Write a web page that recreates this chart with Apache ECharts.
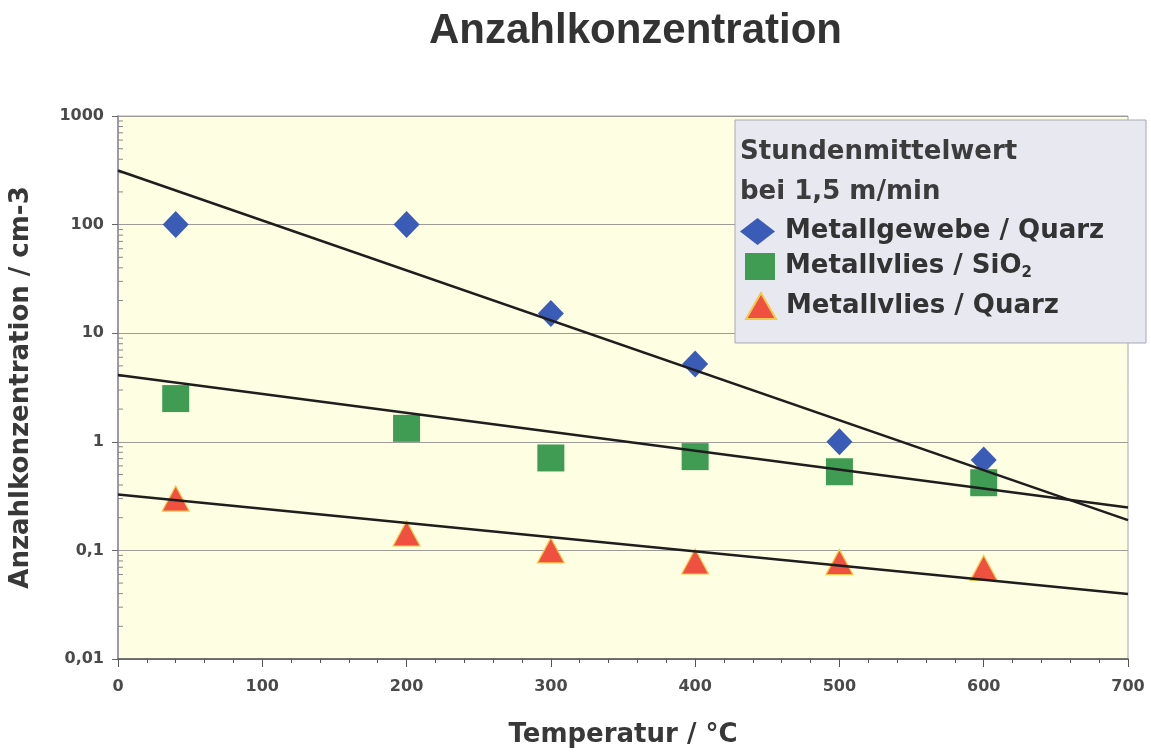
<!DOCTYPE html>
<html>
<head>
<meta charset="utf-8">
<script src="https://cdn.jsdelivr.net/npm/echarts@6/dist/echarts.min.js"></script>
<style>
  html, body { margin: 0; padding: 0; background: #ffffff; }
  #chart { width: 1151px; height: 753px; }
</style>
</head>
<body>
<div id="chart"></div>
<script>
// Measured temperatures (°C)
const temperatures = [40, 200, 300, 400, 500, 600];

// Hourly means of number concentration (cm^-3)
const metallgewebeQuarz = [100, 100, 15.2, 5.2, 1.0, 0.68];
const metallvliesSiO2 = [2.5, 1.33, 0.71, 0.73, 0.53, 0.42];
const metallvliesQuarz = [0.3, 0.143, 0.1, 0.079, 0.078, 0.069];

// Exponential trend lines, given by their values at both ends of the x range
const trendX = [0, 700];
const trendGewebeQuarz = [315, 0.19];
const trendVliesSiO2 = [4.12, 0.248];
const trendVliesQuarz = [0.327, 0.0397];

// Axis tick labels
const xTicks = [0, 100, 200, 300, 400, 500, 600, 700];
const yTickValues = [0.01, 0.1, 1, 10, 100, 1000];
const yTickLabels = ['0,01', '0,1', '1', '10', '100', '1000'];

const seriesNames = ['Metallgewebe / Quarz', 'Metallvlies / SiO2', 'Metallvlies / Quarz'];

const pairs = (xs, ys) => xs.map((x, i) => [x, ys[i]]);

// Logarithmic minor tick positions (2..9 per decade)
const minorTickValues = [];
for (let e = -2; e < 3; e++) {
  for (let m = 2; m <= 9; m++) minorTickValues.push(m * Math.pow(10, e));
}

const FONT = 'DejaVu Sans';
const chart = echarts.init(document.getElementById('chart'), null, { renderer: 'canvas' });

const legendCommon = {
  orient: 'vertical',
  padding: 0,
  z: 12,
  textStyle: {
    fontFamily: FONT, fontWeight: 'bold', fontSize: 26, color: '#333333',
    padding: [0, 0, 0, 5],
    rich: {
      t: { fontFamily: FONT, fontWeight: 'bold', fontSize: 26, color: '#333333' },
      sub: { fontFamily: FONT, fontWeight: 'bold', fontSize: 15, color: '#333333', verticalAlign: 'bottom', padding: [14, 0, 0, 0] }
    }
  },
  formatter: name => name === 'Metallvlies / SiO2' ? '{t|Metallvlies / SiO}{sub|2}' : '{t|' + name + '}'
};

chart.setOption({
  animation: false,
  backgroundColor: '#ffffff',
  title: {
    text: 'Anzahlkonzentration',
    left: 424,
    top: 5,
    textStyle: { fontFamily: 'Liberation Sans', fontWeight: 'bold', fontSize: 42, color: '#333333' }
  },
  grid: {
    left: 118, right: 23, top: 116, bottom: 92,
    show: true,
    backgroundColor: '#FEFEE2',
    borderColor: '#a8a8a8',
    borderWidth: 1
  },
  legend: [
    Object.assign({}, legendCommon, {
      data: [{ name: seriesNames[0], icon: 'diamond' }],
      left: 740, top: 218, itemWidth: 35, itemHeight: 27
    }),
    Object.assign({}, legendCommon, {
      data: [{ name: seriesNames[1], icon: 'rect' }],
      left: 745, top: 253, itemWidth: 30, itemHeight: 27
    }),
    Object.assign({}, legendCommon, {
      data: [{ name: seriesNames[2], icon: 'triangle' }],
      left: 745, top: 292, itemWidth: 30, itemHeight: 26
    })
  ],
  graphic: [
    {
      type: 'rect', z: 10,
      shape: { x: 735, y: 120, width: 411, height: 223 },
      style: { fill: '#E8E8F1', stroke: '#a9a9b2', lineWidth: 1 }
    },
    {
      type: 'text', z: 11, x: 740, y: 152,
      style: { text: 'Stundenmittelwert', fontFamily: FONT, fontWeight: 'bold', fontSize: 26, fill: '#3c3c3c', verticalAlign: 'middle' }
    },
    {
      type: 'text', z: 11, x: 740, y: 192,
      style: { text: 'bei 1,5 m/min', fontFamily: FONT, fontWeight: 'bold', fontSize: 26, fill: '#3c3c3c', verticalAlign: 'middle' }
    }
  ],
  xAxis: {
    type: 'value',
    min: 0, max: 700, interval: 100,
    name: 'Temperatur / °C',
    nameLocation: 'middle',
    nameGap: 63,
    nameTextStyle: { fontFamily: FONT, fontWeight: 'bold', fontSize: 26, color: '#383838' },
    axisLine: { lineStyle: { color: '#555555', width: 1.5 } },
    axisTick: { show: true, length: 8, lineStyle: { color: '#555555' } },
    minorTick: { show: true, splitNumber: 5, length: 4, lineStyle: { color: '#555555' } },
    splitLine: { show: false },
    axisLabel: {
      margin: 20,
      fontFamily: FONT, fontWeight: 'bold', fontSize: 16, color: '#4a4a4a',
      formatter: v => String(xTicks[Math.round(v / 100)])
    }
  },
  yAxis: {
    type: 'log',
    logBase: 10,
    min: 0.01, max: 1000,
    name: 'Anzahlkonzentration / cm-3',
    nameLocation: 'middle',
    nameGap: 84,
    nameTextStyle: { fontFamily: FONT, fontWeight: 'bold', fontSize: 26, color: '#383838' },
    axisLine: { show: true, lineStyle: { color: '#8c86a0', width: 1.5 } },
    axisTick: { show: true, length: 6, lineStyle: { color: '#666666' } },
    splitLine: { show: true, lineStyle: { color: '#9c9c94', width: 1.2 } },
    axisLabel: {
      margin: 14,
      fontFamily: FONT, fontWeight: 'bold', fontSize: 16, color: '#4a4a4a',
      formatter: v => {
        const i = yTickValues.findIndex(t => Math.abs(Math.log10(t) - Math.log10(v)) < 1e-6);
        return i >= 0 ? yTickLabels[i] : '';
      }
    }
  },
  series: [
    {
      // minor ticks of the logarithmic axis, drawn inside the plot
      type: 'custom',
      name: 'minorTicks',
      silent: true,
      clip: false,
      z: 1,
      data: minorTickValues.map(v => [0, v]),
      renderItem: (params, api) => {
        const p = api.coord([0, api.value(1)]);
        return {
          type: 'line',
          shape: { x1: p[0], y1: p[1], x2: p[0] + 5, y2: p[1] },
          style: { stroke: '#8a8a8a', lineWidth: 1 }
        };
      }
    },
    {
      name: seriesNames[0],
      type: 'scatter',
      symbol: 'diamond',
      symbolSize: [26, 27],
      z: 2,
      itemStyle: { color: '#3B5CB6', opacity: 1 },
      data: pairs(temperatures, metallgewebeQuarz)
    },
    {
      name: seriesNames[1],
      type: 'scatter',
      symbol: 'rect',
      symbolSize: [27, 27],
      z: 2,
      itemStyle: { color: '#3F9C52', opacity: 1 },
      data: pairs(temperatures, metallvliesSiO2)
    },
    {
      name: seriesNames[2],
      type: 'scatter',
      symbol: 'triangle',
      symbolSize: [27, 25],
      z: 2,
      itemStyle: { color: '#EF5040', borderColor: '#F4C84A', borderWidth: 1.2, opacity: 1 },
      data: pairs(temperatures, metallvliesQuarz)
    },
    {
      name: 'trend1', type: 'line', symbol: 'none', silent: true, z: 3,
      lineStyle: { color: '#1e1e1e', width: 2.5 },
      data: pairs(trendX, trendGewebeQuarz)
    },
    {
      name: 'trend2', type: 'line', symbol: 'none', silent: true, z: 3,
      lineStyle: { color: '#1e1e1e', width: 2.5 },
      data: pairs(trendX, trendVliesSiO2)
    },
    {
      name: 'trend3', type: 'line', symbol: 'none', silent: true, z: 3,
      lineStyle: { color: '#1e1e1e', width: 2.5 },
      data: pairs(trendX, trendVliesQuarz)
    }
  ]
});
</script>
</body>
</html>
